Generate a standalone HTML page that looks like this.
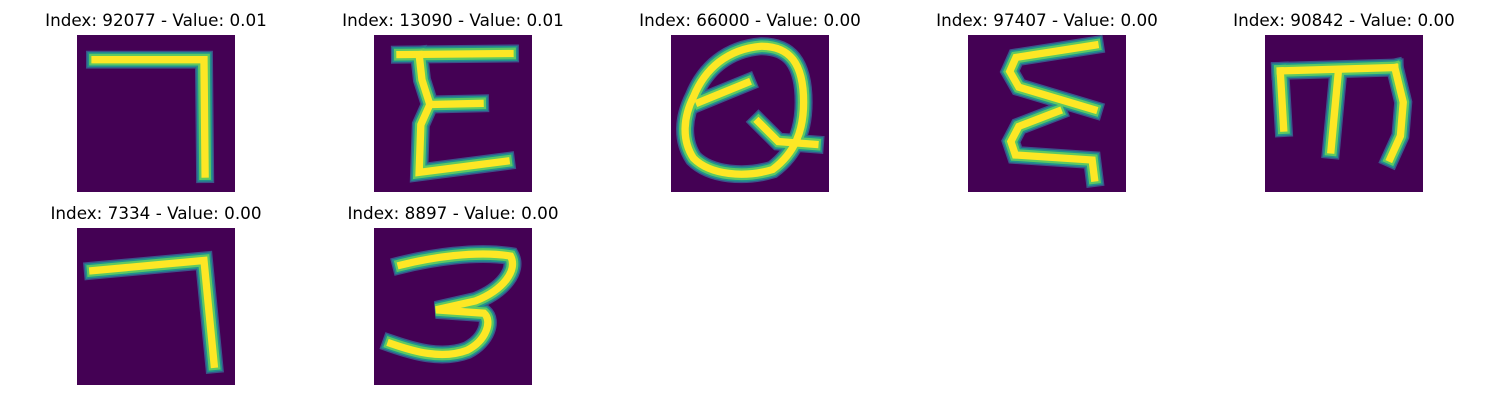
<!DOCTYPE html>
<html><head><meta charset="utf-8"><style>
html,body{margin:0;padding:0;background:#fff;width:1500px;height:400px;overflow:hidden}
svg{display:block}
text{font-family:"DejaVu Sans","Liberation Sans",sans-serif;font-size:16.8px;fill:#000}
</style></head><body>
<svg id="fig" width="1500" height="400" viewBox="0 0 1500 400" xmlns="http://www.w3.org/2000/svg"></svg>
<script>
const indices = [92077, 13090, 66000, 97407, 90842, 7334, 8897];
const values = ["0.01", "0.01", "0.00", "0.00", "0.00", "0.00", "0.00"];
// glyph strokes in 28x28 pixel units
const glyphs = [
  ["M3.2 4.4 L22.5 4.4 L22.7 24.8"],
  ["M4.6 3.5 L24.1 3.3", "M8 3.5 L8.5 8 L9.9 12.4 L8.3 16 L8 24.5 L23.4 22.5", "M9.9 12.4 L18.8 12.2"],
  ["M16 2 C21 2 23.5 5 23.5 12 C23.5 17 22 21 18 24 C13 25.5 7 25 4 22 C2 19 2 15 4 11 C6 6 10 2.5 16 2 Z", "M5 12 L13.5 8.5", "M15.5 15.5 L19 19 L25.5 19.5"],
  ["M22.5 1.8 L8.5 4 L7.4 6.5 L9 9.3 L22.3 13.3", "M16 13.6 L9 16.3 L7.6 19 L8.4 21.4 L22 22.3 L22.4 25.5"],
  ["M2.7 6.4 L23 5.8", "M2.7 6.4 L3.3 16.6", "M13 6.5 L11.7 20.5", "M23 5.8 L24.5 12 L24 18 L22.2 22"],
  ["M2.8 7.6 L22.5 5.8 L24.3 24.3"],
  ["M4.8 6.6 C10 5.3 18 4 24.2 5 C25.5 7.5 23 11 18 13 L11 14.6 L19.5 15.2 C21 16.5 20 20 16.5 21.8 C12 23.5 7 22 3 20.6"]
];
const colX = [77, 374, 671, 968, 1265];
const rowY = [35, 228];
const size = 158;
const NS = "http://www.w3.org/2000/svg";
const svg = document.getElementById("fig");
indices.forEach((idx, i) => {
  const x0 = colX[i % 5], y0 = rowY[Math.floor(i / 5)];
  const g = document.createElementNS(NS, "g");
  
  
  const t = document.createElementNS(NS, "text");
  
  
  t.setAttribute("x", x0 + size / 2); t.setAttribute("y", y0 - 9);
  t.setAttribute("text-anchor", "middle");
  t.textContent = "Index: " + idx + " - Value: " + values[i];
  g.appendChild(t);
  const r = document.createElementNS(NS, "rect");
  
  
  r.setAttribute("x", x0); r.setAttribute("y", y0);
  r.setAttribute("width", size); r.setAttribute("height", 157);
  r.setAttribute("fill", "#440154");
  g.appendChild(r);
  const inner = document.createElementNS(NS, "g");
  inner.setAttribute("transform", `translate(${x0},${y0}) scale(${size/28},${157/28})`);
  const layers = [["#3b528b", 3.2], ["#21918c", 2.7], ["#5ec962", 2.1], ["#fde725", 1.3]];
  layers.forEach(([c, w]) => {
    glyphs[i].forEach(d => {
      const p = document.createElementNS(NS, "path");
      
      
      p.setAttribute("d", d); p.setAttribute("fill", "none");
      p.setAttribute("stroke", c); p.setAttribute("stroke-width", w);
      p.setAttribute("stroke-linejoin", "miter"); p.setAttribute("stroke-linecap", "square");
      inner.appendChild(p);
    });
  });
  g.appendChild(inner);
  svg.appendChild(g);
});
</script>
</body></html>
